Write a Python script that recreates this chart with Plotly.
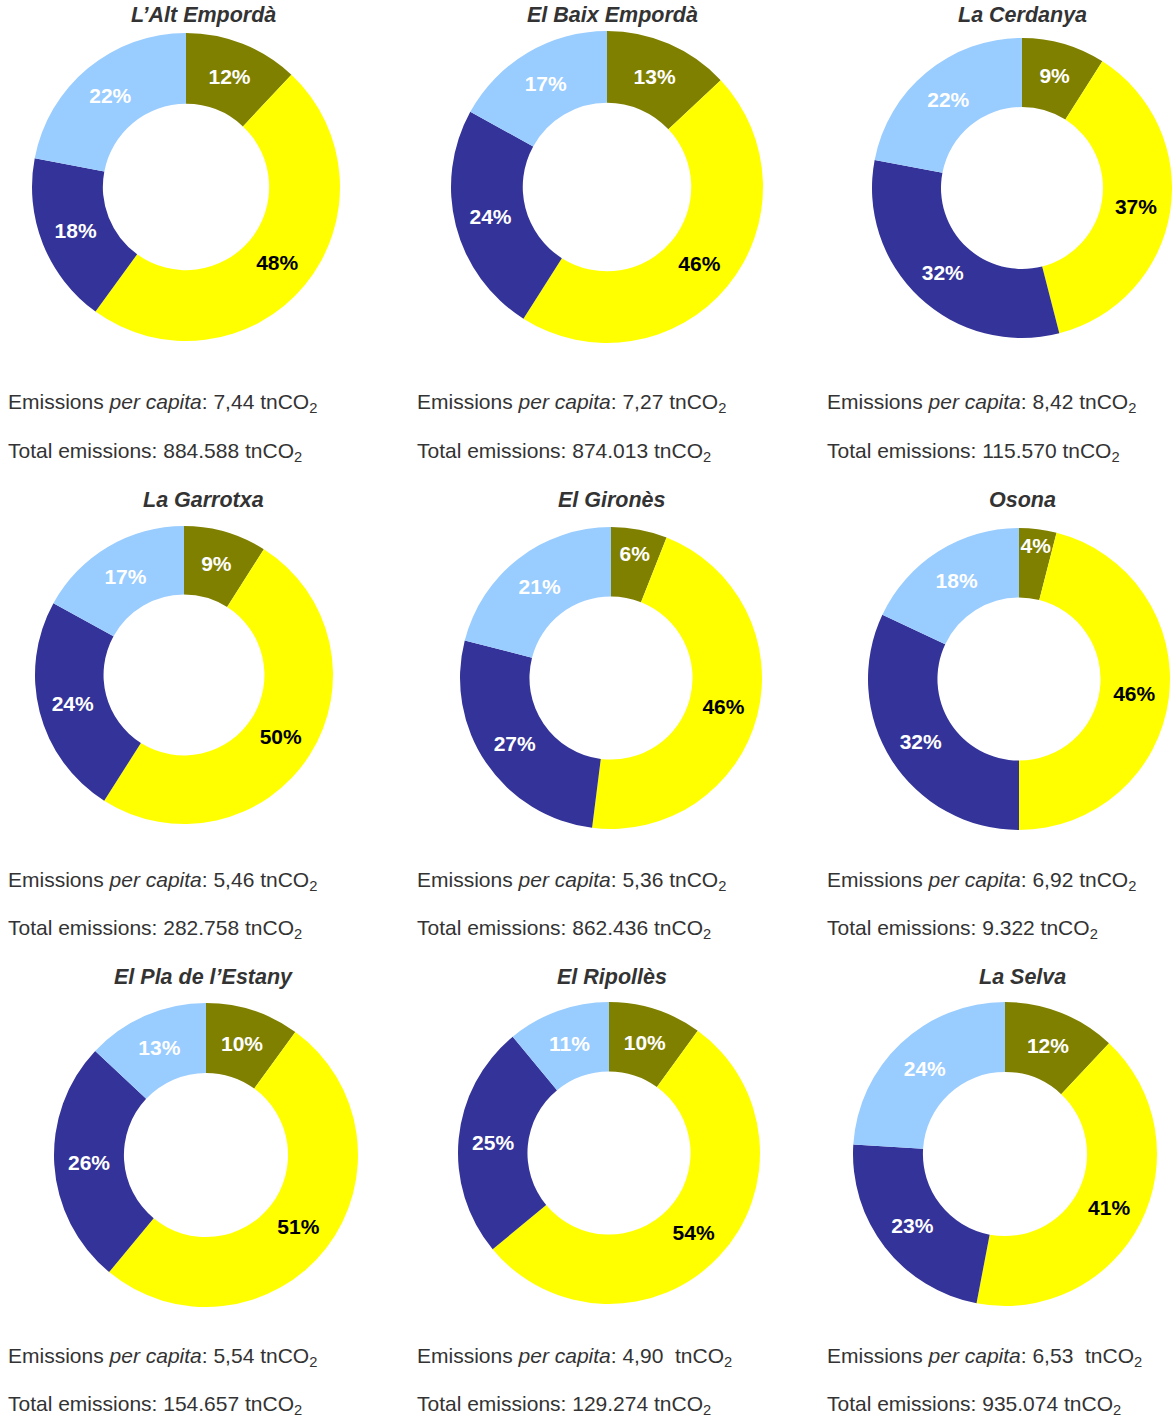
import plotly.graph_objects as go

W, H = 1172, 1415

regions = ["L’Alt Empordà", "El Baix Empordà", "La Cerdanya",
           "La Garrotxa", "El Gironès", "Osona",
           "El Pla de l’Estany", "El Ripollès", "La Selva"]
sectors = ["Sector 1", "Sector 2", "Sector 3", "Sector 4"]
share_1 = [12, 13, 9, 9, 6, 4, 10, 10, 12]
share_2 = [48, 46, 37, 50, 46, 46, 51, 54, 41]
share_3 = [18, 24, 32, 24, 27, 32, 26, 25, 23]
share_4 = [22, 17, 22, 17, 21, 18, 13, 11, 24]
per_capita = ["7,44", "7,27", "8,42", "5,46", "5,36", "6,92", "5,54", "4,90 ", "6,53 "]
total = ["884.588", "874.013", "115.570", "282.758", "862.436", "9.322", "154.657", "129.274", "935.074"]

colors = ["#808000", "#FFFF00", "#333399", "#99CCFF"]
label_colors = ["white", "black", "white", "white"]

# layout geometry (pixels)
donut_cx = [186, 607, 1022, 184, 611, 1019, 206, 609, 1005]
donut_cy = [187, 187, 188, 675, 678, 679, 1155, 1153, 1154]
donut_r = [154, 156, 150, 149, 151, 151, 152, 151, 152]
title_x = [203, 612, 1022]
title_y = [15, 500, 977]
text_x = [6, 415, 825]
line1_y = [403, 881, 1357]
line2_y = [452, 929, 1405]

FONT = "Liberation Sans, Arial"

fig = go.Figure()
for i, name in enumerate(regions):
    cx, cy, r = donut_cx[i], donut_cy[i], donut_r[i]
    vals = [share_1[i], share_2[i], share_3[i], share_4[i]]
    fig.add_trace(go.Pie(
        labels=sectors, values=vals, hole=0.54, sort=False,
        direction="clockwise", rotation=0,
        marker=dict(colors=colors, line=dict(width=0)),
        textinfo="value", texttemplate="<b>%{value}%</b>",
        textposition="inside", insidetextorientation="horizontal",
        insidetextfont=dict(family=FONT, size=21, color=label_colors),
        domain=dict(x=[max(0, (cx - r) / W), min(1, (cx + r) / W)],
                    y=[max(0, 1 - (cy + r) / H), min(1, 1 - (cy - r) / H)]),
        showlegend=False, hoverinfo="label+percent", name=name,
    ))

annotations = []
for i, name in enumerate(regions):
    row, col = divmod(i, 3)
    annotations.append(dict(
        text=f"<b><i>{name}</i></b>", x=title_x[col] / W, y=1 - title_y[row] / H,
        xref="paper", yref="paper", xanchor="center", yanchor="middle",
        showarrow=False, font=dict(family=FONT, size=21.5, color="#333333")))
    annotations.append(dict(
        text=f"Emissions <i>per capita</i>: {per_capita[i]} tnCO<sub>2</sub>",
        x=text_x[col] / W, y=1 - line1_y[row] / H,
        xref="paper", yref="paper", xanchor="left", yanchor="middle",
        showarrow=False, font=dict(family=FONT, size=21, color="#333333")))
    annotations.append(dict(
        text=f"Total emissions: {total[i]} tnCO<sub>2</sub>",
        x=text_x[col] / W, y=1 - line2_y[row] / H,
        xref="paper", yref="paper", xanchor="left", yanchor="middle",
        showarrow=False, font=dict(family=FONT, size=21, color="#333333")))

fig.update_layout(
    width=W, height=H, margin=dict(l=0, r=0, t=0, b=0),
    paper_bgcolor="white", plot_bgcolor="white",
    annotations=annotations,
    uniformtext=dict(minsize=21, mode="show"),
)
fig.write_html("out.html", config={"displayModeBar": False},
               post_script="document.body.style.margin='0';document.body.style.overflow='hidden';")
